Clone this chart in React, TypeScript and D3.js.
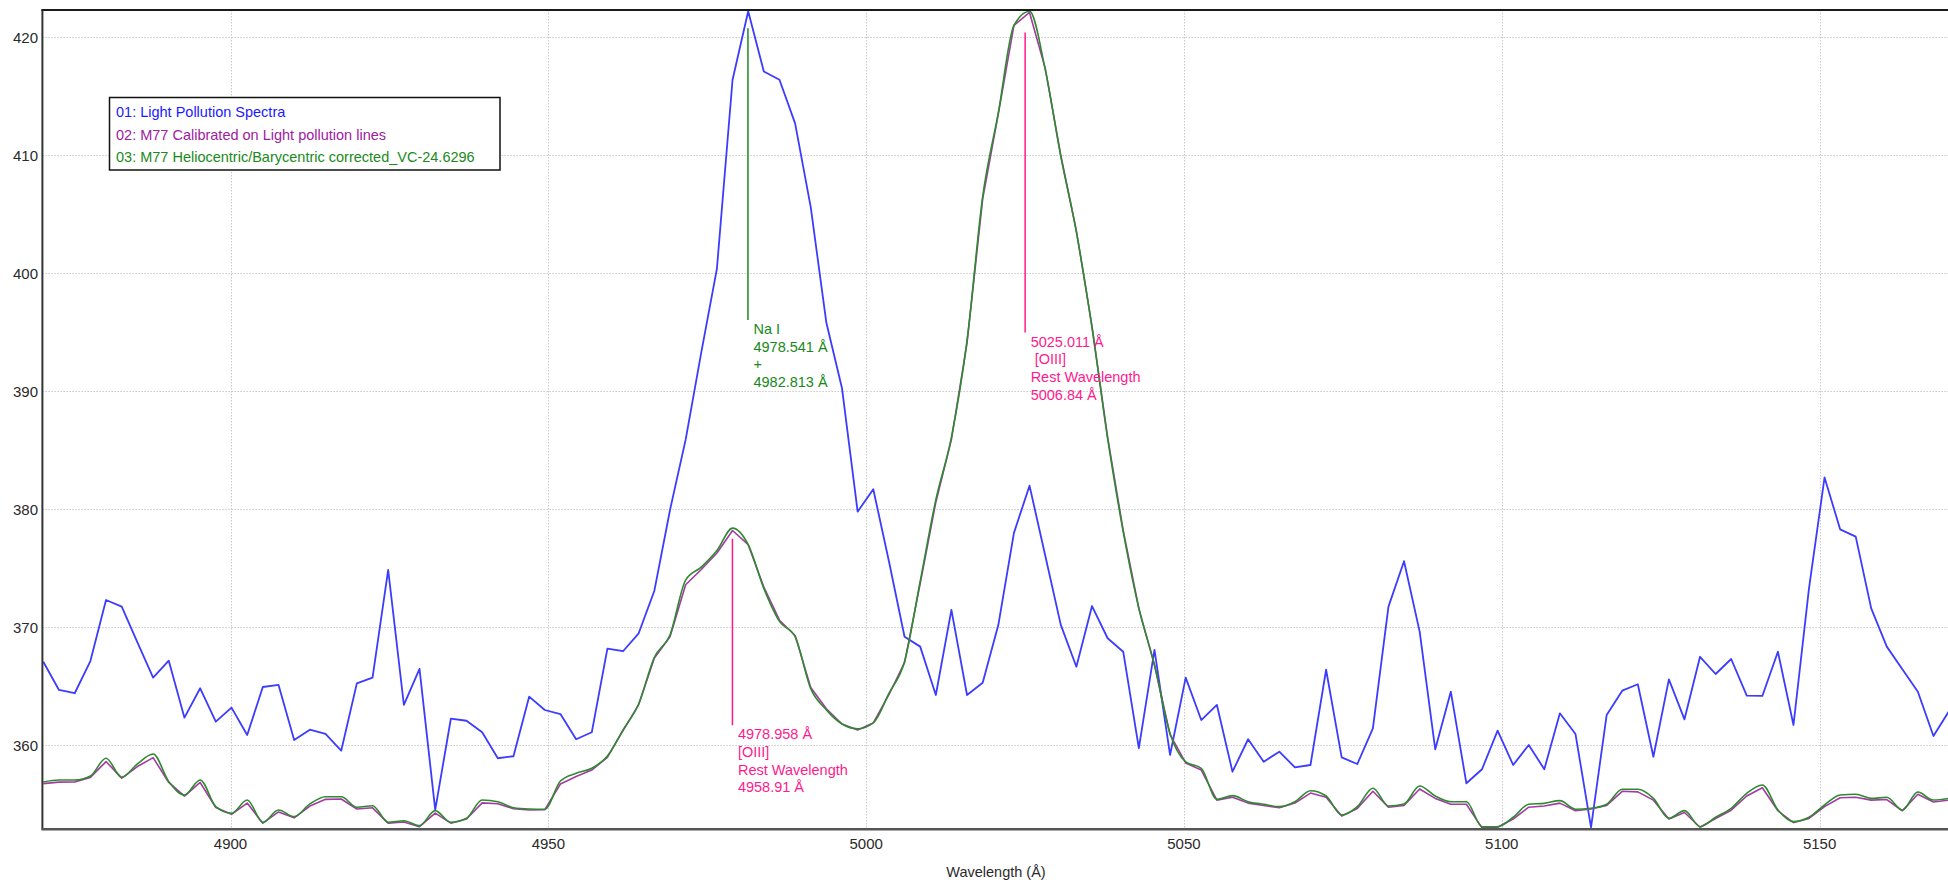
import React from "react";
import * as d3 from "d3";

// ---- data ----
const wavelengths = [
  4870.54, 4873.01, 4875.48, 4877.95, 4880.41, 4882.88, 4885.35, 4887.82, 4890.28, 4892.75,
  4895.22, 4897.68, 4900.15, 4902.62, 4905.08, 4907.55, 4910.01, 4912.48, 4914.94, 4917.41,
  4919.87, 4922.34, 4924.80, 4927.27, 4929.73, 4932.20, 4934.66, 4937.12, 4939.59, 4942.05,
  4944.51, 4946.98, 4949.44, 4951.90, 4954.37, 4956.83, 4959.29, 4961.75, 4964.21, 4966.68,
  4969.14, 4971.60, 4974.06, 4976.52, 4978.98, 4981.44, 4983.90, 4986.36, 4988.82, 4991.28,
  4993.74, 4996.20, 4998.66, 5001.12, 5003.58, 5006.04, 5008.50, 5010.96, 5013.41, 5015.87,
  5018.33, 5020.79, 5023.25, 5025.70, 5028.16, 5030.62, 5033.07, 5035.53, 5037.99, 5040.44,
  5042.90, 5045.36, 5047.81, 5050.27, 5052.72, 5055.18, 5057.63, 5060.09, 5062.54, 5065.00,
  5067.45, 5069.90, 5072.36, 5074.81, 5077.27, 5079.72, 5082.17, 5084.62, 5087.08, 5089.53,
  5091.98, 5094.43, 5096.89, 5099.34, 5101.79, 5104.24, 5106.69, 5109.14, 5111.59, 5114.04,
  5116.50, 5118.95, 5121.40, 5123.85, 5126.29, 5128.74, 5131.19, 5133.64, 5136.09, 5138.54,
  5140.99, 5143.44, 5145.89, 5148.33, 5150.78, 5153.23, 5155.68, 5158.12, 5160.57, 5163.02,
  5165.46, 5167.91, 5170.36,
];

const lightPollution = [
  367.08, 364.69, 364.41, 367.14, 372.31, 371.75, 368.73, 365.73, 367.17, 362.34,
  364.83, 362.0, 363.19, 360.87, 364.94, 365.11, 360.45, 361.32, 360.96, 359.54,
  365.25, 365.73, 374.86, 363.42, 366.47, 354.52, 362.25, 362.08, 361.1, 358.9,
  359.07, 364.12, 362.99, 362.65, 360.51, 361.1, 368.19, 367.97, 369.49, 373.1,
  379.94, 385.9, 393.3, 400.4, 416.4, 422.2, 417.1, 416.4, 412.7, 405.6,
  395.8, 390.25, 379.8, 381.7, 375.6, 369.2, 368.36, 364.26, 371.47, 364.26,
  365.3, 370.19, 378.0, 382.0, 376.1, 370.2, 366.66, 371.8, 369.07, 367.93,
  359.75, 368.08, 359.18, 365.73, 362.14, 363.42, 357.76, 360.51, 358.61, 359.46,
  358.13, 358.33, 366.4, 358.98, 358.41, 361.44, 371.75, 375.6, 369.63, 359.66,
  364.54, 356.78, 357.97, 361.24, 358.33, 360.03, 357.97, 362.71, 360.96, 353.05,
  362.57, 364.63, 365.17, 359.03, 365.59, 362.2, 367.5, 366.04, 367.31, 364.2,
  364.18, 367.93, 361.72, 373.3, 382.7, 378.3, 377.68, 371.6, 368.36, 366.44,
  364.54, 360.79, 362.9,
];

const m77Calibrated = [
  356.75, 356.88, 356.9, 357.28, 358.62, 357.22, 358.2, 358.95, 356.85, 355.7,
  356.85, 354.72, 354.15, 355.1, 353.4, 354.35, 353.85, 354.85, 355.42, 355.45,
  354.6, 354.7, 353.4, 353.5, 353.1, 354.25, 353.4, 353.75, 355.12, 355.05,
  354.62, 354.52, 354.55, 356.72, 357.35, 357.9, 358.98, 361.25, 363.45, 367.4,
  369.2, 373.6, 374.9, 376.3, 378.2, 377.0, 373.4, 370.6, 369.3, 364.9,
  363.1, 361.8, 361.3, 361.9, 364.3, 367.0, 373.7, 380.6, 385.9, 394.1,
  406.3, 413.5, 421.0, 422.1, 417.4, 410.0, 403.6, 395.5, 386.1, 378.2,
  371.6, 366.8, 360.9, 358.5, 357.9, 355.35, 355.6, 355.1, 354.9, 354.7,
  355.1, 355.95, 355.6, 354.0, 354.65, 356.1, 354.75, 354.9, 356.3, 355.5,
  355.0, 355.0, 353.0, 353.05, 353.75, 354.75, 354.85, 355.1, 354.45, 354.6,
  354.9, 356.1, 356.05, 355.35, 353.75, 354.3, 353.05, 353.8, 354.5, 355.7,
  356.4, 354.45, 353.45, 353.8, 354.8, 355.55, 355.6, 355.35, 355.4, 354.45,
  355.85, 355.2, 355.35,
];

const m77Helio = [
  356.89, 357.06, 357.06, 357.4, 358.9, 357.29, 358.42, 359.26, 356.92, 355.79,
  357.06, 354.8, 354.24, 355.36, 353.47, 354.52, 353.95, 355.03, 355.64, 355.64,
  354.75, 354.88, 353.47, 353.61, 353.19, 354.46, 353.47, 353.81, 355.36, 355.22,
  354.71, 354.6, 354.58, 356.97, 357.63, 358.05, 359.09, 361.3, 363.5, 367.46,
  369.35, 374.0, 375.1, 376.5, 378.4, 377.0, 373.3, 370.5, 369.2, 364.8,
  363.0, 361.8, 361.4, 361.9, 364.4, 367.1, 373.9, 380.8, 386.1, 394.3,
  406.5, 413.6, 421.0, 422.2, 417.3, 409.9, 403.5, 395.4, 386.0, 378.1,
  371.6, 366.8, 361.0, 358.6, 358.05, 355.42, 355.73, 355.22, 355.0, 354.8,
  355.22, 356.15, 355.7, 354.09, 354.8, 356.36, 354.86, 355.03, 356.55, 355.7,
  355.22, 355.22, 353.1, 353.1, 353.9, 355.0, 355.08, 355.31, 354.58, 354.66,
  355.0, 356.27, 356.27, 355.5, 353.81, 354.46, 353.1, 353.9, 354.66, 355.93,
  356.64, 354.52, 353.53, 353.9, 354.94, 355.79, 355.85, 355.5, 355.59, 354.52,
  356.04, 355.36, 355.5,
];

const xTicks = [4900, 4950, 5000, 5050, 5100, 5150];
const yTicks = [360, 370, 380, 390, 400, 410, 420];

const legendLabels = [
  "01: Light Pollution Spectra",
  "02: M77 Calibrated on Light pollution lines",
  "03: M77 Heliocentric/Barycentric corrected_VC-24.6296",
];

// marker lines: wavelength, top value, bottom value, label lines, colour key
const markerWavelengths = [4981.4, 4978.958, 5025.011];
const markerTops = [420.77, 377.5, 420.4];
const markerBottoms = [396.04, 361.7, 394.97];
const markerTexts = [
  ["Na I", "4978.541 Å", "+", "4982.813 Å"],
  ["4978.958 Å", "[OIII]", "Rest Wavelength", "4958.91 Å"],
  ["5025.011 Å", "\u00A0[OIII]", "Rest Wavelength", "5006.84 Å"],
];
const markerKinds = ["na", "oiii", "oiii"];

// ---- layout / style ----
const W = 1948;
const H = 880;
const plotLeft = 42.4;
const plotRight = 1948;
const plotTop = 10;
const plotBottom = 829.3;
const FONT = "'Liberation Sans', Arial, sans-serif";

const BLUE = "#3c3cff";
const PURPLE = "#a23ca2";
const GREEN = "#2f8a2f";
const PINK = "#ff1a8c";
const TEXT_GREEN = "#17891a";

export default function App() {
  const x = d3.scaleLinear().domain([4870.4, 5170.2]).range([plotLeft, plotRight]);
  const y = d3.scaleLinear().domain([352.88, 422.31]).range([plotBottom, plotTop]);

  const lineLinear = d3
    .line<number>()
    .x((_, i) => x(wavelengths[i]))
    .y((d) => y(d));
  const lineSmooth = d3
    .line<number>()
    .x((_, i) => x(wavelengths[i]))
    .y((d) => y(d))
    .curve(d3.curveMonotoneX);

  return (
    <svg
      width={W}
      height={H}
      viewBox={`0 0 ${W} ${H}`}
      style={{ position: "absolute", left: 0, top: 0, display: "block", background: "#fff" }}
      fontFamily={FONT}
    >
      <rect x={0} y={0} width={W} height={H} fill="#fff" />
      <defs>
        <clipPath id="plotClip">
          <rect x={plotLeft} y={plotTop} width={plotRight - plotLeft} height={plotBottom - plotTop} />
        </clipPath>
      </defs>

      {/* grid */}
      <g stroke="#c9c9c9" strokeWidth={1} strokeDasharray="1.5,1.5">
        {yTicks.map((t) => (
          <line key={"gy" + t} x1={plotLeft} x2={plotRight} y1={Math.round(y(t)) + 0.5} y2={Math.round(y(t)) + 0.5} />
        ))}
        {xTicks.map((t) => (
          <line key={"gx" + t} x1={Math.round(x(t)) + 0.5} x2={Math.round(x(t)) + 0.5} y1={plotTop} y2={plotBottom} />
        ))}
      </g>

      {/* series */}
      <g clipPath="url(#plotClip)" fill="none" strokeLinejoin="round">
        <path d={lineLinear(lightPollution) || ""} stroke={BLUE} strokeWidth={1.8} />
        <path d={lineLinear(m77Calibrated) || ""} stroke={PURPLE} strokeWidth={1.6} />
        <path d={lineSmooth(m77Helio) || ""} stroke={GREEN} strokeWidth={1.6} />
      </g>

      {/* marker lines and labels */}
      {markerWavelengths.map((w, k) => {
        const mx = x(w);
        const col = markerKinds[k] === "na" ? "#1f8a1f" : PINK;
        const tcol = markerKinds[k] === "na" ? TEXT_GREEN : PINK;
        const yb = y(markerBottoms[k]);
        return (
          <g key={"m" + k}>
            <line x1={mx} x2={mx} y1={y(markerTops[k])} y2={yb} stroke={col} strokeWidth={1.5} />
            {markerTexts[k].map((s, j) => (
              <text
                key={j}
                x={mx + 5.5}
                y={yb + 9 + j * 17.6}
                dy="0.36em"
                fontSize={14.5}
                fill={tcol}
              >
                {s}
              </text>
            ))}
          </g>
        );
      })}

      {/* axes */}
      <line x1={plotLeft} x2={plotLeft} y1={plotTop} y2={plotBottom} stroke="#333" strokeWidth={2} />
      <line x1={plotLeft - 1} x2={plotRight} y1={plotBottom} y2={plotBottom} stroke="#555" strokeWidth={2.4} />
      <line x1={plotLeft - 1} x2={plotRight} y1={plotTop} y2={plotTop} stroke="#1a1a1a" strokeWidth={2} />

      {/* tick labels */}
      {yTicks.map((t) => (
        <text key={"ty" + t} x={38} y={y(t)} dy="0.36em" textAnchor="end" fontSize={15} fill="#2a2a2a">
          {t}
        </text>
      ))}
      {xTicks.map((t) => (
        <text key={"tx" + t} x={x(t)} y={844} dy="0.36em" textAnchor="middle" fontSize={15} fill="#2a2a2a">
          {t}
        </text>
      ))}
      <text x={996} y={872} dy="0.36em" textAnchor="middle" fontSize={14.5} fill="#2a2a2a">
        Wavelength (Å)
      </text>

      {/* legend */}
      <rect x={109.5} y={97.5} width={390.5} height={72.5} fill="#fff" stroke="#111" strokeWidth={1.5} />
      {legendLabels.map((s, i) => (
        <text
          key={"lg" + i}
          x={116}
          y={112 + i * 22.5}
          dy="0.36em"
          fontSize={14.5}
          fill={i === 0 ? "#1a1aff" : i === 1 ? "#a020a0" : "#1a8a1a"}
        >
          {s}
        </text>
      ))}
    </svg>
  );
}
